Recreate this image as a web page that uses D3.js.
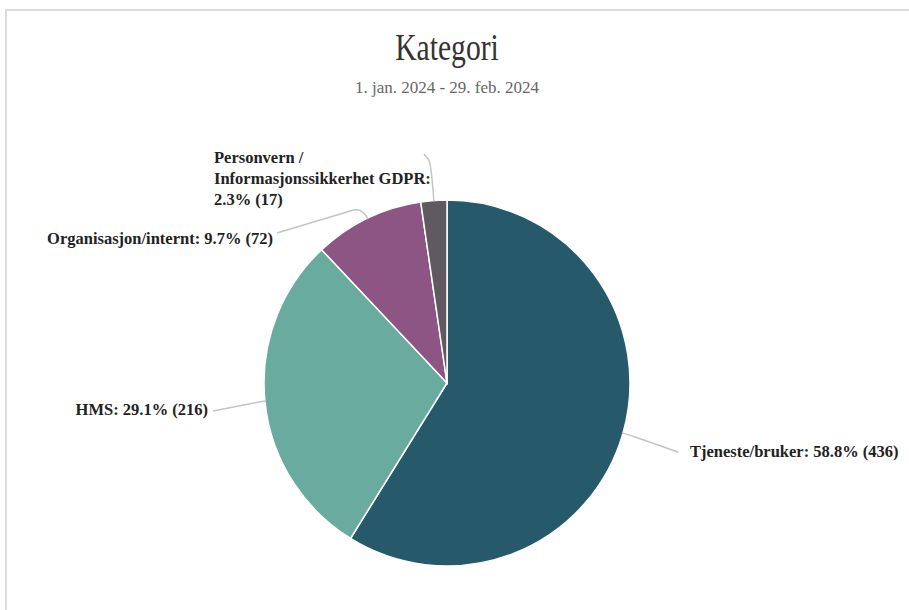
<!DOCTYPE html>
<html>
<head>
<meta charset="utf-8">
<script src="https://cdn.jsdelivr.net/npm/d3@7"></script>
<style>
  body { margin: 0; background: #fff; }
  #chart svg { display: block; }
</style>
</head>
<body>
<div id="chart"></div>
<script>
// DATA
////////////////////////////
var categories = ["Tjeneste/bruker", "HMS", "Organisasjon/internt", "Personvern / Informasjonssikkerhet GDPR"];
var counts = [436, 216, 72, 17];
var colours = ["#265a6b", "#6aab9f", "#8d5583", "#5f5a5f"];
// label lines as shown (long label wraps over three lines)
var labelLines = [
  ["Tjeneste/bruker: 58.8% (436)"],
  ["HMS: 29.1% (216)"],
  ["Organisasjon/internt: 9.7% (72)"],
  ["Personvern /", "Informasjonssikkerhet GDPR:", "2.3% (17)"]
];

// SETUP
////////////////////////////
var width = 909,
    height = 610;
var cx = 447, cy = 383, radius = 183;

var svg = d3.select("#chart").append("svg")
    .attr("width", width)
    .attr("height", height);

// card border (top + left visible)
svg.append("rect")
    .attr("x", 6).attr("y", 10)
    .attr("width", width + 10).attr("height", height + 10)
    .attr("fill", "#fff")
    .attr("stroke", "#dcdcdc")
    .attr("stroke-width", 2);

var title = svg.append("text")
    .attr("transform", "translate(" + cx + ",60) scale(0.78,1)")
    .attr("text-anchor", "middle")
    .style("font-family", "'Liberation Serif', 'Times New Roman', serif")
    .style("font-size", "38px")
    .style("fill", "#333")
    .text("Kategori");

svg.append("text")
    .attr("x", cx).attr("y", 93)
    .attr("text-anchor", "middle")
    .style("font-family", "'Liberation Serif', 'Times New Roman', serif")
    .style("font-size", "17px")
    .style("fill", "#666")
    .text("1. jan. 2024 - 29. feb. 2024");

// PIE
////////////////////////////
var pie = d3.pie().sort(null).value(function(d) { return d; });
var arcs = pie(counts);
var total = d3.sum(counts);

var arc = d3.arc().innerRadius(0).outerRadius(radius);

var g = svg.append("g").attr("transform", "translate(" + cx + "," + cy + ")");

g.selectAll("path.slice")
  .data(arcs)
  .enter().append("path")
    .attr("class", "slice")
    .attr("d", arc)
    .attr("fill", function(d, i) { return colours[i]; })
    .attr("stroke", "#fff")
    .attr("stroke-width", 1.5);

// LABELS + leader lines
////////////////////////////
// label placement (relative to pie centre), tweaked by eye
var layout = [
  { anchor: "start", dx: 243, dy: 74,  elbow: 8,  endDx: -12, endDy: -5 },
  { anchor: "end",   dx: -239, dy: 32, elbow: 5,  endDx: 5,   endDy: -4 },
  { anchor: "end",   dx: -174, dy: -139, elbow: 12, endDx: 4, endDy: -11 },
  { anchor: "start", dx: -233, dy: -220, elbow: 38, endDx: 210, endDy: -9 }
];

function polar(a, r) { return [Math.sin(a) * r, -Math.cos(a) * r]; }

arcs.forEach(function(d, i) {
  var a = (d.startAngle + d.endAngle) / 2;
  var L = layout[i];
  var p0 = polar(a, radius - 1);
  var p1 = polar(a, radius + L.elbow);
  var end = [L.dx + L.endDx, L.dy + L.endDy];
  // point a little before the corner so the bend is rounded
  var vx = end[0] - p1[0], vy = end[1] - p1[1];
  var len = Math.sqrt(vx * vx + vy * vy);
  var t = Math.min(10, len / 3) / len;
  var p2 = [p1[0] + vx * t, p1[1] + vy * t];

  var p = d3.path();
  p.moveTo(p0[0], p0[1]);
  p.quadraticCurveTo(p1[0], p1[1], p2[0], p2[1]);
  p.lineTo(end[0], end[1]);

  g.append("path")
    .attr("d", p.toString())
    .attr("fill", "none")
    .attr("stroke", "#c4c4c4")
    .attr("stroke-width", 1.5);

  var txt = g.append("text")
    .attr("x", L.dx)
    .attr("y", L.dy)
    .attr("text-anchor", L.anchor)
    .style("font-family", "'Liberation Serif', 'Times New Roman', serif")
    .style("font-weight", "bold")
    .style("font-size", "16.5px")
    .style("fill", "#222");

  labelLines[i].forEach(function(line, j) {
    txt.append("tspan")
      .attr("x", L.dx)
      .attr("dy", j === 0 ? 0 : 21)
      .text(line);
  });
});
</script>
</body>
</html>
